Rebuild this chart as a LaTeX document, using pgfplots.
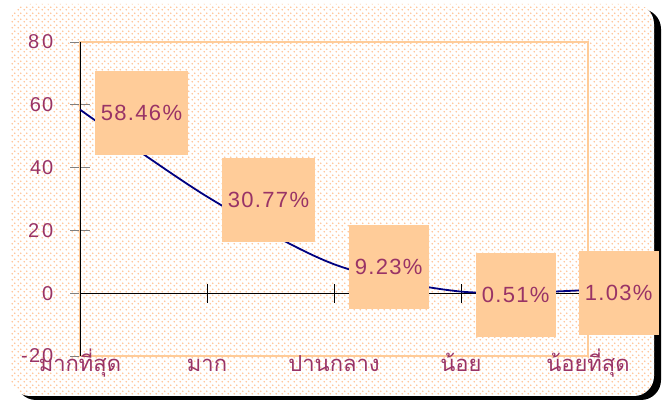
\documentclass[border=0pt]{standalone}
\usepackage{fontspec}
\setmainfont{Liberation Sans}
\newfontfamily\thaifont[Script=Thai]{Loma}
\newfontfamily\numfont[LetterSpace=6]{Liberation Sans}
\usepackage{pgfplots}
\pgfplotsset{compat=1.18}
\usetikzlibrary{patterns.meta}
\definecolor{maroon}{RGB}{153,51,102}
\definecolor{peach}{RGB}{255,204,153}
\definecolor{dotc}{RGB}{255,195,150}
\definecolor{navyline}{RGB}{0,0,128}
\tikzdeclarepattern{name=mydots, type=uncolored,
  bounding box={(0pt,0pt) and (5.5pt,5.5pt)}, tile size={(5.5pt,5.5pt)},
  code={\fill (1.375pt,1.375pt) circle (0.95pt); \fill (4.125pt,4.125pt) circle (0.95pt);}}
\begin{document}
\begin{tikzpicture}[x=1pt,y=1pt]
\useasboundingbox (0,0) rectangle (666,401);
\fill[black, rounded corners=20pt] (16,1) rectangle (661,392);
\fill[white, rounded corners=20pt] (10,5) rectangle (654,397);
\fill[pattern=mydots, pattern color=dotc, rounded corners=20pt] (10,5) rectangle (654,397);
\begin{axis}[at={(80pt,45pt)}, anchor=south west, scale only axis,
  width=508pt, height=314pt,
  xmin=0, xmax=4, ymin=-20, ymax=80, clip=false,
  axis line style={draw=peach, line width=1.5pt},
  xtick={0,1,2,3,4},
  xticklabels={มากที่สุด, มาก, ปานกลาง, น้อย, น้อยที่สุด},
  x tick style={draw=none},
  xticklabel style={font=\thaifont\fontsize{22}{24}\selectfont, text=maroon, anchor=base, yshift=-6pt},
  ytick={-20,0,20,40,60,80},
  yticklabels={-2\kern2pt0, 0, 2\kern3pt0, 4\kern1pt0, 60, 8\kern3pt0},
  ytick pos=left,
  y tick style={draw=gray, line width=0.8pt},
  major tick length=19pt, tick align=center,
  yticklabel style={font=\numfont\fontsize{20}{22}\selectfont, text=maroon, anchor=east, inner sep=0pt, xshift=-17pt},
]
\draw[black, line width=0.9pt] (axis cs:0,-20) -- (axis cs:0,80);
\draw[black, line width=0.9pt] (axis cs:0,0) -- (axis cs:4,0);
\draw[black, line width=0.9pt] (axis cs:1,-3) -- (axis cs:1,3);
\draw[black, line width=0.9pt] (axis cs:2,-3) -- (axis cs:2,3);
\draw[black, line width=0.9pt] (axis cs:3,-3) -- (axis cs:3,3);
\addplot[navyline, line width=1.8pt, smooth,
  point meta=explicit symbolic,
  visualization depends on={\thisrow{dx} \as \dx},
  nodes near coords={\pgfplotspointmeta\%},
  every node near coord/.append style={anchor=west, xshift=\dx pt, yshift=-3pt,
    fill=peach, minimum height=84pt, inner xsep=6pt,
    font=\numfont\fontsize{22}{24}\selectfont, text=maroon}]
  table[x=x, y=y, meta=label] {
x y dx label
0 58.46 14 58.46
1 30.77 14 30.77
2 9.23 14 9.23
3 0.51 14 0.51
4 1.03 -10 1.03
};
\end{axis}
\end{tikzpicture}
\end{document}
